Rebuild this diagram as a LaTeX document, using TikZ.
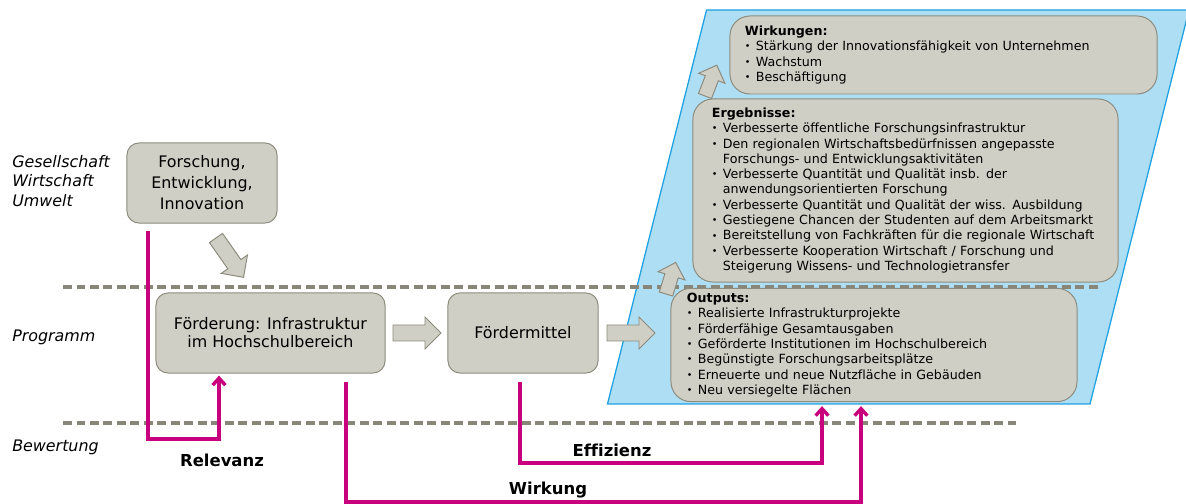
\documentclass[tikz,border=0pt]{standalone}
\usepackage{fontspec}
\setmainfont{DejaVu Sans}[Ligatures=NoCommon]
\usetikzlibrary{arrows.meta}

\definecolor{boxfill}{RGB}{208,207,197}
\definecolor{boxline}{RGB}{140,139,125}
\definecolor{planefill}{RGB}{174,222,244}
\definecolor{planeline}{RGB}{30,160,225}
\definecolor{evalpink}{RGB}{200,0,125}
\definecolor{levelgray}{RGB}{135,134,120}

\newcommand{\itm}[1]{\makebox[7.8pt][l]{\raisebox{0.6pt}{\scalebox{0.75}{\textbullet}}}\mbox{#1}}
\newcommand{\cnt}[1]{\hspace*{7.8pt}\mbox{#1}}

\begin{document}
\begin{tikzpicture}[x=0.025cm, y=-0.025cm, >={Straight Barb[length=5pt,width=9pt]}]
        \tikzset{
            box/.style={draw=boxline, fill=boxfill, line width=0.7pt, rounded corners=0.3cm, minimum height=2cm, align=center, font=\fontsize{11.3}{14.9}\selectfont},
            listbox/.style={draw=boxline, fill=boxfill, line width=0.7pt, rounded corners=0.5cm, align=left, font=\fontsize{9}{10.9}\selectfont},
            level/.style={draw=levelgray, line width=2.5pt, dash pattern=on 6.2pt off 3.4pt},
            evalline/.style={draw=evalpink, line width=2.4pt, ->},
            evallabel/.style={font=\fontsize{11.7}{14}\selectfont\bfseries},
            tier/.style={anchor=west, align=left, inner sep=0pt, font=\fontsize{11.3}{13.9}\selectfont\itshape},
            arrowbody/.style={draw=boxline, fill=boxfill, line width=0.7pt, line join=miter},
            pics/bigarrow/.style={code={\draw[arrowbody] (0,-8) -- (32,-8) -- (32,-16) -- (48,0) -- (32,16) -- (32,8) -- (0,8) -- cycle;}},
            pics/smallarrow/.style={code={\draw[arrowbody] (0,-7) -- (19,-7) -- (19,-14) -- (33,0) -- (19,14) -- (19,7) -- (0,7) -- cycle;}}
        }
        \useasboundingbox (0,0) rectangle (1186,504);

        \draw[fill=planefill, draw=planeline, line width=0.9pt] (607.5,404) -- (1090,404) -- (1189,10) -- (706.5,10) -- cycle;

        \draw[level] (63,287) -- (1100,287);
        \draw[level] (63,423) -- (1016,423);

        \node[tier] (gesell) at (12,181) {Gesellschaft\\Wirtschaft\\Umwelt};
        \node[tier] (programm) at (12,337) {Programm};
        \node[tier] (bewertung) at (12,447) {Bewertung};

        \node[box, minimum width=3.75cm] (forsch) at (202,183) {Forschung,\\Entwicklung,\\Innovation};
        \node[box, minimum width=5.725cm, font=\fontsize{11.3}{12.8}\selectfont] (foerd) at (270.5,333) {Förderung: Infrastruktur\\im Hochschulbereich};
        \node[box, minimum width=3.75cm] (mittel) at (523,333) {Fördermittel};

        \node[listbox, text width=9.35cm, inner xsep=0.4cm, minimum height=2.8cm] (outputs) at (874,345) {\textbf{Outputs:}\\
            \itm{Realisierte Infrastrukturprojekte}\\
            \itm{Förderfähige Gesamtausgaben}\\
            \itm{Geförderte Institutionen im Hochschulbereich}\\
            \itm{Begünstigte Forschungsarbeitsplätze}\\
            \itm{Erneuerte und neue Nutzfläche in Gebäuden}\\
            \itm{Neu versiegelte Flächen}};
        \node[listbox, text width=9.675cm, inner xsep=0.475cm, minimum height=4.575cm] (ergeb) at (905.5,190.5) {\textbf{Ergebnisse:}\\
            \itm{Verbesserte öffentliche Forschungsinfrastruktur}\\
            \itm{Den regionalen Wirtschaftsbedürfnissen angepasste}\\
            \cnt{Forschungs- und Entwicklungsaktivitäten}\\
            \itm{Verbesserte Quantität und Qualität insb. der}\\
            \cnt{anwendungsorientierten Forschung}\\
            \itm{Verbesserte Quantität und Qualität der wiss. Ausbildung}\\
            \itm{Gestiegene Chancen der Studenten auf dem Arbeitsmarkt}\\
            \itm{Bereitstellung von Fachkräften für die regionale Wirtschaft}\\
            \itm{Verbesserte Kooperation Wirtschaft / Forschung und}\\
            \cnt{Steigerung Wissens- und Technologietransfer}};
        \node[listbox, text width=9.925cm, inner xsep=0.375cm, minimum height=1.95cm] (wirk) at (943.5,55) {\textbf{Wirkungen:}\\
            \itm{Stärkung der Innovationsfähigkeit von Unternehmen}\\
            \itm{Wachstum}\\
            \itm{Beschäftigung}};

        \pic[rotate=-55] at (216,238) {bigarrow};
        \pic at (393,333) {bigarrow};
        \pic at (607,333) {bigarrow};
        \pic[rotate=73] at (666,294) {smallarrow};
        \pic[rotate=69] at (705,96) {smallarrow};

        \coordinate (rel0) at (148,231);
        \coordinate (rel1) at (219,439);
        \coordinate (eff0) at (520,382);
        \coordinate (eff1) at (822,463);
        \coordinate (wir0) at (346,382);
        \coordinate (wir1) at (861,502);
        \draw[evalline, shorten >=1.5pt] (rel0) |- (rel1) -- (rel1 |- foerd.south);
        \draw[evalline, shorten >=2.8pt] (eff0) |- (eff1) -- (eff1 |- outputs.south);
        \draw[evalline, shorten >=2.8pt] (wir0) |- (wir1) -- (wir1 |- outputs.south);

        \node[evallabel] (relevanz) at (222,460) {Relevanz};
        \node[evallabel] (effizienz) at (612,450) {Effizienz};
        \node[evallabel] (wirkung) at (548,490) {Wirkung};
\end{tikzpicture}
\end{document}
